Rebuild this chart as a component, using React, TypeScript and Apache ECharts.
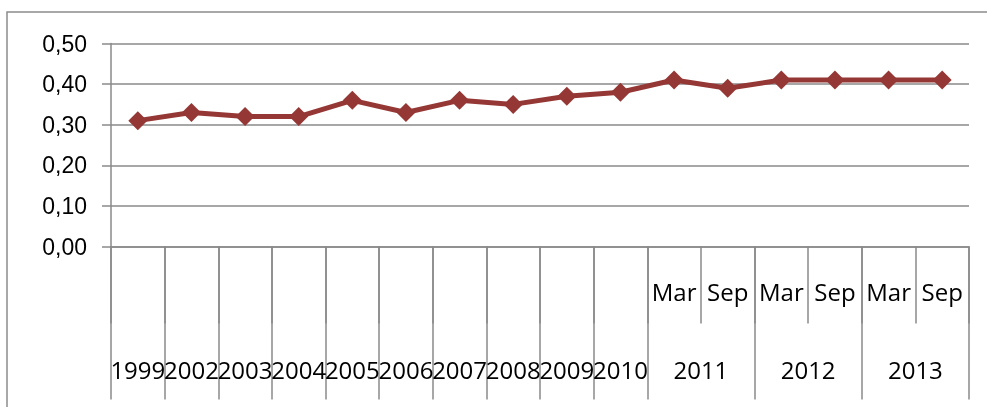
import React, { useEffect, useRef } from "react";
import * as echarts from "echarts";

const years = ["1999","2002","2003","2004","2005","2006","2007","2008","2009","2010","2011","2011","2012","2012","2013","2013"];
const months = ["","","","","","","","","","","Mar","Sep","Mar","Sep","Mar","Sep"];
const categories = years.map((y, i) => (months[i] ? `${y} ${months[i]}` : y));
const values = [0.31, 0.33, 0.32, 0.32, 0.36, 0.33, 0.36, 0.35, 0.37, 0.38, 0.41, 0.39, 0.41, 0.41, 0.41, 0.41];
const yTicks = { min: 0, max: 0.5, interval: 0.1 };

const GRAY = "#8a8a8a";
const LBL_FONT = "Open Sans";

export default function App() {
  const ref = useRef<HTMLDivElement>(null);
  useEffect(() => {
    if (!ref.current) return;
    const chart = echarts.init(ref.current, null, { renderer: "svg" });
    chart.setOption({
      animation: false,
      graphic: [
        {
          type: "rect",
          shape: { x: 7, y: 12, width: 1100, height: 600 },
          style: { fill: "none", stroke: "#8c8c8c", lineWidth: 1.5 },
          silent: true,
        },
      ],
      grid: { left: 111, right: 18, top: 43.5, bottom: 160.5, containLabel: false },
      xAxis: [
        {
          type: "category",
          position: "bottom",
          data: categories,
          boundaryGap: true,
          axisLine: { show: true, lineStyle: { color: GRAY, width: 1.5 } },
          axisTick: { show: true, length: 77, interval: 0, lineStyle: { color: GRAY, width: 1.5 } },
          axisLabel: {
            interval: 0,
            margin: 33,
            formatter: (_v: string, i: number) => months[i],
            fontFamily: LBL_FONT,
            fontSize: 24,
            color: "#000",
          },
          splitLine: { show: false },
        },
        {
          type: "category",
          position: "bottom",
          data: categories,
          boundaryGap: true,
          axisLine: { show: false },
          axisTick: {
            show: true,
            length: 153,
            interval: (i: number) => months[i] !== "Sep",
            lineStyle: { color: GRAY, width: 1.5 },
          },
          axisLabel: {
            interval: 0,
            margin: 111,
            hideOverlap: false,
            formatter: (_v: string, i: number) => (months[i] ? "" : years[i]),
            fontFamily: LBL_FONT,
            fontSize: 24,
            color: "#000",
          },
          splitLine: { show: false },
        },
        {
          type: "value",
          position: "bottom",
          min: 0,
          max: categories.length,
          interval: 1,
          axisLine: { show: false },
          axisTick: { show: false },
          splitLine: { show: false },
          axisLabel: {
            margin: 111,
            showMinLabel: true,
            showMaxLabel: true,
            formatter: (v: number) => (months[v] === "Sep" ? years[v] : ""),
            fontFamily: LBL_FONT,
            fontSize: 24,
            color: "#000",
          },
        },
      ],
      yAxis: {
        type: "value",
        min: yTicks.min,
        max: yTicks.max,
        interval: yTicks.interval,
        axisLine: { show: true, lineStyle: { color: GRAY, width: 1.5 } },
        axisTick: { show: true, length: 9, lineStyle: { color: GRAY, width: 1.5 } },
        splitLine: { show: true, lineStyle: { color: GRAY, width: 1.5 } },
        axisLabel: {
          margin: 24,
          formatter: (v: number) => v.toFixed(2).replace(".", ","),
          fontFamily: "Liberation Sans",
          fontSize: 23,
          color: "#000",
        },
      },
      series: [
        {
          type: "line",
          xAxisIndex: 0,
          data: values,
          symbol: "diamond",
          symbolSize: 19,
          showAllSymbol: true,
          lineStyle: { color: "#953735", width: 5 },
          itemStyle: { color: "#953735" },
        },
      ],
    });
    return () => chart.dispose();
  }, []);
  return <div ref={ref} style={{ position: "fixed", left: 0, top: 0, width: 987, height: 407 }} />;
}
